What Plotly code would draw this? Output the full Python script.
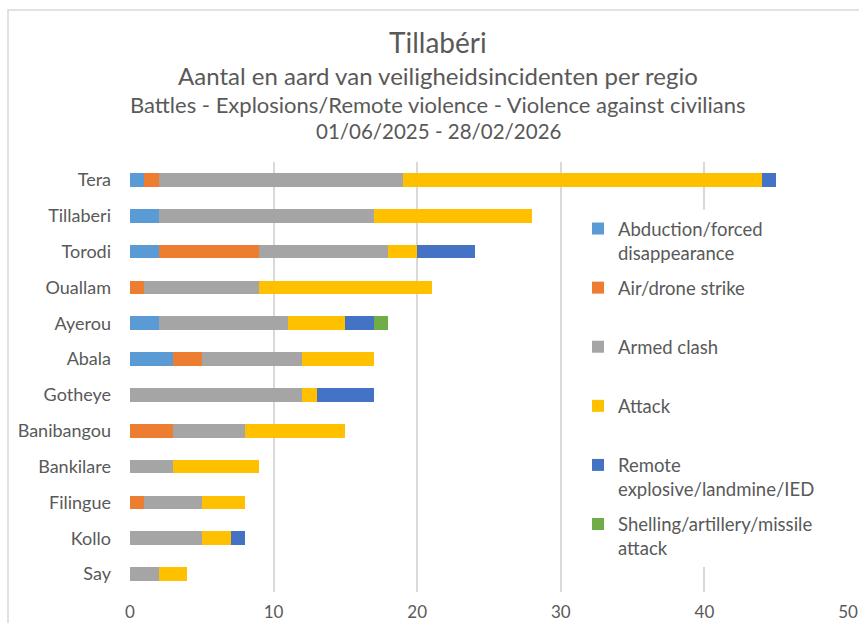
import plotly.graph_objects as go

regions = ["Tera", "Tillaberi", "Torodi", "Ouallam", "Ayerou", "Abala", "Gotheye",
           "Banibangou", "Bankilare", "Filingue", "Kollo", "Say"]
abduction = [1, 2, 2, 0, 2, 3, 0, 0, 0, 0, 0, 0]
air_drone = [1, 0, 7, 1, 0, 2, 0, 3, 0, 1, 0, 0]
armed_clash = [17, 15, 9, 8, 9, 7, 12, 5, 3, 4, 5, 2]
attack = [25, 11, 2, 12, 4, 5, 1, 7, 6, 3, 2, 2]
remote = [1, 0, 4, 0, 2, 0, 4, 0, 0, 0, 1, 0]
shelling = [0, 0, 0, 0, 1, 0, 0, 0, 0, 0, 0, 0]

legend_labels = ["Abduction/forced<br>disappearance",
                 "Air/drone strike<br>\u00a0",
                 "Armed clash<br>\u00a0",
                 "Attack<br>\u00a0",
                 "Remote<br>explosive/landmine/IED",
                 "Shelling/artillery/missile<br>attack"]
colors = ["#5B9BD5", "#ED7D31", "#A5A5A5", "#FFC000", "#4472C4", "#70AD47"]
series = [abduction, air_drone, armed_clash, attack, remote, shelling]

FONT = "Lato"
GREY = "#595959"
W, H = 859, 623
L, R, T, B = 130, 11, 162, 31
PW, PH = W - L - R, H - T - B

def px_x(x):
    return (x - L) / PW

def px_y(y):
    return (H - B - y) / PH

fig = go.Figure()
for i, (lab, vals, col) in enumerate(zip(legend_labels, series, colors)):
    fig.add_trace(go.Bar(
        y=regions, x=vals, name=lab, orientation="h",
        marker=dict(color=col, line=dict(width=0)),
        legendgroup=f"g{i}",
    ))

fig.update_layout(
    width=W, height=H,
    margin=dict(l=L, r=R, t=T, b=B, autoexpand=False),
    paper_bgcolor="white", plot_bgcolor="white",
    barmode="stack", bargap=0.62,
    font=dict(family=FONT, color=GREY, size=18),
    xaxis=dict(range=[0, 50], dtick=10, showgrid=True, gridcolor="#D9D9D9",
               gridwidth=1.5, zeroline=False, showline=False, ticks="",
               automargin=False,
               tickfont=dict(size=17, color=GREY), ticklabelstandoff=8),
    yaxis=dict(autorange="reversed", showgrid=False, showline=False, ticks="",
               automargin=False,
               tickfont=dict(size=18, color=GREY), ticklabelstandoff=18),
    legend=dict(x=px_x(578), y=px_y(210), xanchor="left", yanchor="top",
                bgcolor="white", traceorder="grouped", tracegroupgap=8,
                valign="top", font=dict(size=18.5, color=GREY)),
    showlegend=True,
)

titles = [("Tillabéri", 42, 28),
          ("Aantal en aard van veiligheidsincidenten per regio", 75, 24),
          ("Battles - Explosions/Remote violence - Violence against civilians", 104, 22),
          ("01/06/2025 - 28/02/2026", 131, 20.5)]
for text, ypx, sz in titles:
    fig.add_annotation(text=text, xref="paper", yref="paper", x=px_x(438), y=px_y(ypx),
                       xanchor="center", yanchor="middle", showarrow=False,
                       font=dict(size=sz, color=GREY, family=FONT))

fig.add_shape(type="rect", xref="paper", yref="paper",
              x0=px_x(8), x1=px_x(890), y0=px_y(660), y1=px_y(10),
              line=dict(color="#D9D9D9", width=1.5), fillcolor="rgba(0,0,0,0)", layer="below")

fig.write_html("out.html", config={"displayModeBar": False},
               post_script="document.body.style.margin='0';document.body.style.overflow='hidden';")
